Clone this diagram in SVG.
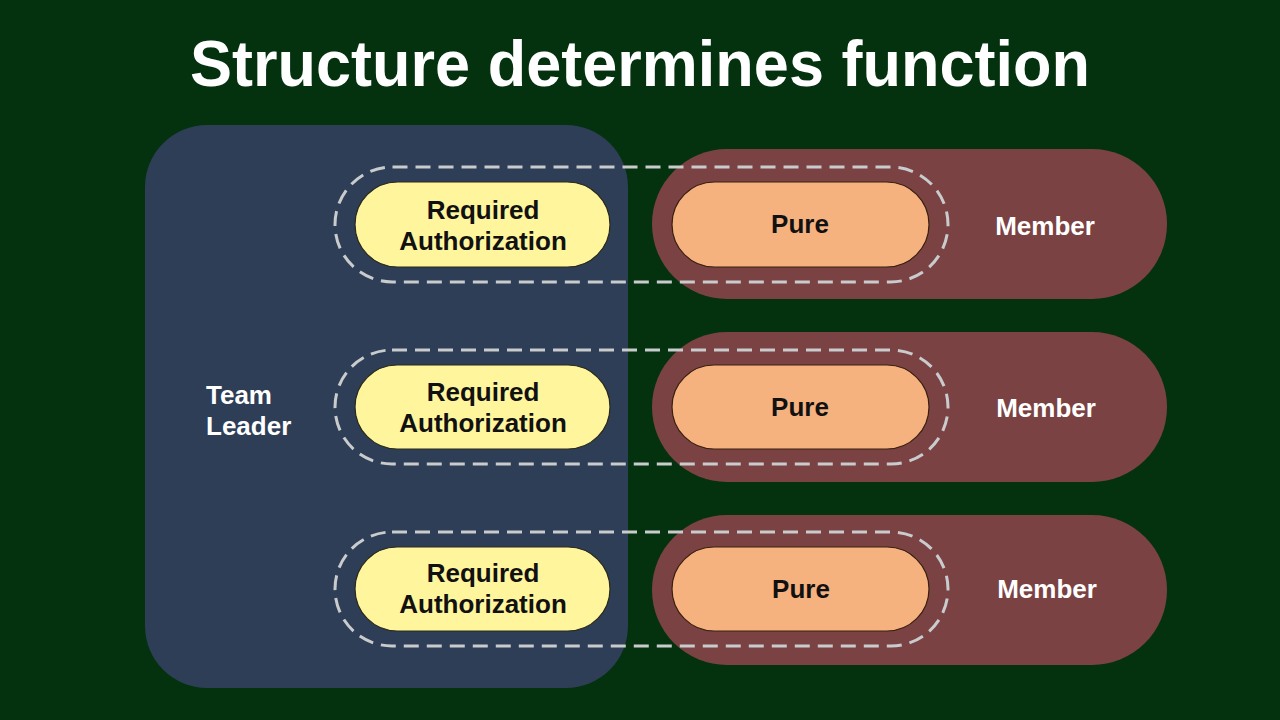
<svg xmlns="http://www.w3.org/2000/svg" width="1280" height="720" viewBox="0 0 1280 720">
  <style>
    .lbl { font-family: "Liberation Sans", Arial, sans-serif; font-weight: bold; font-size: 26px; text-anchor: middle; }
    .dark { fill: #111111; }
    .light { fill: #ffffff; }
    .yellow { fill: #fff59d; stroke: #2a2a1a; stroke-width: 1.2; }
    .orange { fill: #f5b27f; stroke: #3a2010; stroke-width: 1.2; }
    .member { fill: #7a4243; }
    .dash { fill: none; stroke: #c9cbcd; stroke-width: 3; stroke-dasharray: 15 8; }
  </style>
  <rect x="0" y="0" width="1280" height="720" fill="#04320f"/>
  <text x="640" y="86" text-anchor="middle" font-family="Liberation Sans, Arial, sans-serif" font-weight="bold" font-size="64" fill="#ffffff" textLength="900" lengthAdjust="spacingAndGlyphs">Structure determines function</text>

  <g id="team-leader">
    <rect x="145" y="125" width="483" height="563" rx="62" fill="#2d3e56"/>
    <text class="lbl light" x="206" y="404" text-anchor="start" style="text-anchor:start">Team</text>
    <text class="lbl light" x="206" y="435" style="text-anchor:start">Leader</text>
  </g>

  <g id="member-1">
    <rect class="member" x="652" y="149" width="515" height="150" rx="75"/>
    <text class="lbl light" x="1045" y="235">Member</text>
  </g>
  <g id="member-2">
    <rect class="member" x="652" y="332" width="515" height="150" rx="75"/>
    <text class="lbl light" x="1046" y="417">Member</text>
  </g>
  <g id="member-3">
    <rect class="member" x="652" y="515" width="515" height="150" rx="75"/>
    <text class="lbl light" x="1047" y="598">Member</text>
  </g>

  <g id="connectors">
    <rect class="dash" x="335" y="167" width="613" height="115" rx="57.5"/>
    <rect class="dash" x="335" y="350" width="613" height="114" rx="57"/>
    <rect class="dash" x="335" y="532" width="613" height="114" rx="57"/>
  </g>

  <g id="auth-1">
    <rect class="yellow" x="355" y="182" width="255" height="85" rx="42.5"/>
    <text class="lbl dark" x="483" y="219">Required</text>
    <text class="lbl dark" x="483" y="250">Authorization</text>
  </g>
  <g id="auth-2">
    <rect class="yellow" x="355" y="365" width="255" height="84" rx="42"/>
    <text class="lbl dark" x="483" y="401">Required</text>
    <text class="lbl dark" x="483" y="432">Authorization</text>
  </g>
  <g id="auth-3">
    <rect class="yellow" x="355" y="547" width="255" height="84" rx="42"/>
    <text class="lbl dark" x="483" y="582">Required</text>
    <text class="lbl dark" x="483" y="613">Authorization</text>
  </g>

  <g id="pure-1">
    <rect class="orange" x="672" y="182" width="257" height="85" rx="42.5"/>
    <text class="lbl dark" x="800" y="233">Pure</text>
  </g>
  <g id="pure-2">
    <rect class="orange" x="672" y="365" width="257" height="84" rx="42"/>
    <text class="lbl dark" x="800" y="416">Pure</text>
  </g>
  <g id="pure-3">
    <rect class="orange" x="672" y="547" width="257" height="84" rx="42"/>
    <text class="lbl dark" x="801" y="598">Pure</text>
  </g>
</svg>
